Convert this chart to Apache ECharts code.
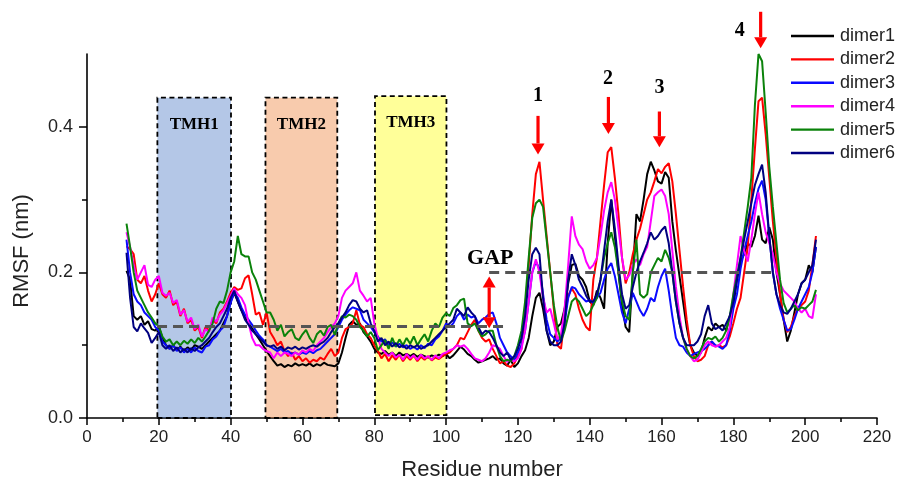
<!DOCTYPE html>
<html>
<head>
<meta charset="utf-8">
<script src="https://cdn.jsdelivr.net/npm/echarts@6/dist/echarts.min.js"></script>
<style>
  html, body { margin: 0; padding: 0; background: #ffffff; }
  #chart { width: 897px; height: 486px; }
</style>
</head>
<body>
<div id="chart"></div>
<script>
// RMSF per residue (nm), residues 11..203
const residueStart = 11;

const dimer1 = [
  0.202,0.19,0.14,0.135,0.14,0.128,0.133,0.122,0.12,0.126,
  0.11,0.1,0.095,0.1,0.093,0.098,0.092,0.097,0.093,0.1,
  0.098,0.095,0.1,0.105,0.11,0.115,0.12,0.13,0.14,0.16,
  0.172,0.16,0.148,0.138,0.13,0.123,0.115,0.108,0.1,0.092,
  0.085,0.078,0.072,0.074,0.07,0.073,0.071,0.075,0.072,0.074,
  0.072,0.075,0.071,0.074,0.072,0.076,0.073,0.072,0.071,0.075,
  0.09,0.11,0.128,0.133,0.128,0.13,0.118,0.112,0.105,0.095,
  0.09,0.088,0.092,0.087,0.09,0.085,0.09,0.086,0.088,0.085,
  0.088,0.084,0.087,0.085,0.083,0.086,0.084,0.087,0.085,0.088,
  0.082,0.086,0.092,0.098,0.094,0.088,0.085,0.08,0.076,0.078,
  0.08,0.082,0.085,0.08,0.082,0.075,0.072,0.08,0.07,0.075,
  0.085,0.093,0.11,0.14,0.165,0.172,0.15,0.12,0.1,0.105,
  0.125,0.13,0.15,0.185,0.21,0.212,0.195,0.19,0.18,0.16,
  0.155,0.175,0.165,0.15,0.24,0.3,0.25,0.2,0.155,0.125,
  0.118,0.2,0.28,0.27,0.3,0.335,0.352,0.34,0.325,0.322,
  0.338,0.33,0.27,0.23,0.195,0.16,0.125,0.1,0.09,0.085,
  0.09,0.11,0.125,0.12,0.13,0.125,0.128,0.12,0.14,0.155,
  0.19,0.215,0.225,0.24,0.235,0.25,0.278,0.245,0.24,0.262,
  0.245,0.2,0.17,0.135,0.105,0.12,0.145,0.17,0.185,0.19,
  0.21,0.2,0.235
];

const dimer2 = [
  0.236,0.232,0.225,0.19,0.185,0.195,0.175,0.16,0.17,0.185,
  0.17,0.165,0.175,0.155,0.16,0.14,0.15,0.13,0.135,0.12,
  0.125,0.11,0.125,0.12,0.135,0.13,0.145,0.15,0.16,0.172,
  0.18,0.176,0.178,0.192,0.196,0.17,0.142,0.145,0.128,0.145,
  0.118,0.11,0.1,0.105,0.092,0.085,0.09,0.08,0.085,0.078,
  0.082,0.076,0.08,0.078,0.083,0.08,0.088,0.095,0.085,0.09,
  0.11,0.122,0.125,0.13,0.148,0.128,0.125,0.115,0.11,0.1,
  0.092,0.082,0.088,0.078,0.086,0.08,0.087,0.078,0.085,0.08,
  0.086,0.078,0.084,0.08,0.085,0.079,0.083,0.081,0.085,0.088,
  0.09,0.095,0.1,0.11,0.108,0.118,0.128,0.135,0.12,0.11,
  0.105,0.108,0.095,0.085,0.075,0.078,0.072,0.07,0.075,0.085,
  0.095,0.15,0.21,0.28,0.335,0.352,0.3,0.25,0.2,0.15,
  0.1,0.095,0.138,0.168,0.178,0.17,0.15,0.135,0.125,0.12,
  0.19,0.22,0.27,0.32,0.365,0.372,0.33,0.28,0.22,0.185,
  0.2,0.225,0.245,0.26,0.28,0.3,0.31,0.325,0.342,0.336,
  0.345,0.35,0.325,0.28,0.23,0.18,0.135,0.1,0.085,0.078,
  0.08,0.085,0.1,0.105,0.098,0.1,0.097,0.1,0.112,0.13,
  0.15,0.165,0.2,0.235,0.3,0.37,0.435,0.44,0.39,0.33,
  0.27,0.22,0.17,0.135,0.118,0.125,0.14,0.15,0.155,0.16,
  0.175,0.21,0.25
];

const dimer3 = [
  0.245,0.2,0.17,0.16,0.155,0.145,0.14,0.135,0.125,0.12,
  0.105,0.1,0.095,0.1,0.092,0.097,0.09,0.095,0.09,0.097,
  0.092,0.09,0.098,0.1,0.108,0.112,0.12,0.125,0.14,0.158,
  0.172,0.165,0.152,0.142,0.135,0.128,0.12,0.113,0.108,0.1,
  0.098,0.095,0.092,0.095,0.09,0.092,0.088,0.09,0.087,0.09,
  0.088,0.092,0.089,0.093,0.095,0.1,0.105,0.11,0.115,0.125,
  0.135,0.142,0.148,0.152,0.15,0.148,0.135,0.13,0.125,0.118,
  0.112,0.105,0.108,0.1,0.104,0.098,0.102,0.097,0.1,0.095,
  0.098,0.094,0.1,0.096,0.102,0.1,0.108,0.112,0.12,0.13,
  0.125,0.13,0.14,0.145,0.135,0.142,0.138,0.14,0.13,0.135,
  0.138,0.143,0.145,0.13,0.11,0.1,0.09,0.085,0.08,0.09,
  0.1,0.12,0.16,0.2,0.215,0.205,0.17,0.135,0.115,0.11,
  0.105,0.11,0.13,0.165,0.18,0.178,0.17,0.165,0.16,0.162,
  0.158,0.165,0.172,0.19,0.205,0.213,0.195,0.17,0.145,0.13,
  0.15,0.172,0.16,0.148,0.14,0.15,0.165,0.16,0.18,0.195,
  0.205,0.175,0.14,0.11,0.1,0.098,0.09,0.085,0.088,0.09,
  0.092,0.095,0.1,0.105,0.1,0.098,0.095,0.1,0.12,0.15,
  0.17,0.205,0.23,0.25,0.27,0.295,0.315,0.326,0.3,0.25,
  0.2,0.17,0.15,0.135,0.12,0.122,0.135,0.15,0.16,0.17,
  0.18,0.2,0.235
];

const dimer4 = [
  0.255,0.235,0.21,0.19,0.2,0.21,0.183,0.18,0.19,0.195,
  0.172,0.168,0.172,0.158,0.162,0.142,0.148,0.132,0.138,0.122,
  0.128,0.112,0.122,0.118,0.138,0.132,0.142,0.148,0.158,0.168,
  0.178,0.17,0.165,0.155,0.13,0.11,0.1,0.1,0.095,0.092,
  0.09,0.082,0.09,0.085,0.09,0.088,0.085,0.09,0.087,0.093,
  0.09,0.095,0.092,0.1,0.105,0.11,0.118,0.125,0.13,0.14,
  0.165,0.175,0.18,0.185,0.2,0.175,0.168,0.16,0.165,0.13,
  0.11,0.095,0.09,0.085,0.09,0.083,0.087,0.08,0.088,0.082,
  0.086,0.08,0.087,0.082,0.085,0.08,0.086,0.082,0.088,0.09,
  0.093,0.095,0.1,0.098,0.1,0.095,0.088,0.082,0.08,0.078,
  0.082,0.09,0.1,0.098,0.095,0.085,0.077,0.08,0.078,0.082,
  0.095,0.12,0.16,0.2,0.218,0.2,0.165,0.145,0.15,0.13,
  0.108,0.115,0.15,0.21,0.277,0.25,0.238,0.232,0.215,0.205,
  0.21,0.22,0.25,0.285,0.31,0.324,0.3,0.26,0.22,0.19,
  0.196,0.21,0.218,0.21,0.225,0.235,0.27,0.305,0.31,0.314,
  0.305,0.28,0.23,0.18,0.14,0.11,0.095,0.085,0.078,0.08,
  0.09,0.1,0.105,0.1,0.098,0.1,0.105,0.11,0.125,0.17,
  0.21,0.25,0.23,0.215,0.245,0.28,0.31,0.28,0.255,0.24,
  0.225,0.2,0.185,0.175,0.17,0.165,0.16,0.15,0.145,0.15,
  0.14,0.137,0.17
];

const dimer5 = [
  0.267,0.235,0.2,0.175,0.165,0.155,0.145,0.138,0.13,0.126,
  0.112,0.105,0.108,0.1,0.105,0.1,0.106,0.102,0.108,0.103,
  0.11,0.105,0.112,0.12,0.13,0.15,0.16,0.158,0.175,0.2,
  0.215,0.25,0.225,0.222,0.222,0.2,0.19,0.175,0.16,0.145,
  0.145,0.135,0.12,0.128,0.112,0.118,0.122,0.11,0.107,0.115,
  0.121,0.11,0.103,0.115,0.12,0.113,0.125,0.128,0.114,0.13,
  0.14,0.138,0.142,0.14,0.135,0.125,0.12,0.112,0.118,0.11,
  0.093,0.1,0.107,0.095,0.11,0.098,0.108,0.1,0.11,0.102,
  0.112,0.1,0.108,0.115,0.105,0.12,0.13,0.125,0.138,0.144,
  0.14,0.151,0.155,0.162,0.164,0.13,0.126,0.13,0.12,0.112,
  0.115,0.12,0.12,0.1,0.085,0.078,0.08,0.078,0.085,0.1,
  0.12,0.16,0.22,0.275,0.295,0.3,0.29,0.245,0.2,0.155,
  0.125,0.105,0.12,0.14,0.16,0.165,0.16,0.15,0.14,0.145,
  0.155,0.165,0.19,0.22,0.24,0.255,0.235,0.2,0.16,0.14,
  0.135,0.2,0.245,0.17,0.165,0.17,0.2,0.21,0.22,0.215,
  0.231,0.22,0.2,0.16,0.13,0.11,0.095,0.085,0.082,0.085,
  0.095,0.105,0.11,0.108,0.112,0.105,0.11,0.12,0.14,0.17,
  0.195,0.22,0.255,0.29,0.33,0.43,0.5,0.49,0.42,0.345,
  0.29,0.24,0.19,0.158,0.145,0.15,0.155,0.148,0.152,0.15,
  0.155,0.16,0.176
];

const dimer6 = [
  0.227,0.165,0.125,0.119,0.13,0.123,0.117,0.103,0.11,0.118,
  0.1,0.095,0.1,0.092,0.097,0.09,0.095,0.09,0.096,0.092,
  0.097,0.1,0.105,0.11,0.118,0.125,0.13,0.14,0.15,0.165,
  0.175,0.16,0.148,0.135,0.128,0.12,0.115,0.11,0.105,0.1,
  0.098,0.1,0.095,0.098,0.093,0.097,0.095,0.098,0.094,0.097,
  0.095,0.098,0.1,0.098,0.102,0.105,0.11,0.118,0.125,0.13,
  0.138,0.145,0.155,0.162,0.16,0.15,0.145,0.148,0.13,0.12,
  0.105,0.11,0.1,0.105,0.098,0.103,0.097,0.1,0.095,0.1,
  0.097,0.1,0.095,0.098,0.1,0.105,0.11,0.115,0.12,0.125,
  0.13,0.135,0.15,0.145,0.14,0.152,0.145,0.14,0.125,0.115,
  0.12,0.118,0.11,0.1,0.09,0.085,0.09,0.08,0.085,0.095,
  0.11,0.14,0.19,0.225,0.234,0.225,0.165,0.12,0.105,0.1,
  0.1,0.105,0.13,0.19,0.225,0.21,0.19,0.18,0.168,0.16,
  0.16,0.17,0.19,0.23,0.27,0.3,0.26,0.21,0.17,0.15,
  0.155,0.18,0.2,0.215,0.227,0.24,0.255,0.245,0.25,0.258,
  0.263,0.24,0.2,0.16,0.13,0.11,0.1,0.1,0.1,0.105,
  0.115,0.14,0.155,0.13,0.122,0.125,0.12,0.13,0.14,0.16,
  0.19,0.22,0.245,0.27,0.295,0.32,0.335,0.348,0.31,0.25,
  0.2,0.17,0.155,0.145,0.143,0.15,0.16,0.17,0.185,0.19,
  0.2,0.21,0.245
];

const seriesNames = ['dimer1', 'dimer2', 'dimer3', 'dimer4', 'dimer5', 'dimer6'];
const seriesValues = [dimer1, dimer2, dimer3, dimer4, dimer5, dimer6];
const seriesColors = ['#000000', '#ff0000', '#0a0aff', '#ff00ff', '#0a820a', '#000080'];

// Transmembrane helix ranges (residue numbers) and box height (nm)
const helixNames = ['TMH1', 'TMH2', 'TMH3'];
const helixStart = [19.6, 49.7, 80.2];
const helixEnd = [40.1, 69.7, 100.1];
const helixTop = [0.44, 0.44, 0.442];
const helixBottom = [0, 0, 0.004];
const helixFill = ['rgba(67,115,195,0.4)', 'rgba(237,125,50,0.4)', 'rgba(255,255,0,0.4)'];

// Average-fluctuation reference levels (residue range, nm)
const gapLevels = [[19.5, 117.5, 0.1255], [112, 191, 0.2]];

// Peak annotations: residue, arrow top, arrow tip, label position
const peakLabels = ['1', '2', '3', '4'];
const peakResidue = [125.6, 145.2, 159.4, 187.6];
const peakArrowTop = [0.415, 0.441, 0.421, 0.558];
const peakArrowTip = [0.362, 0.39, 0.372, 0.508];
const peakLabelX = [125.6, 145.1, 159.4, 181.8];
const peakLabelY = [0.442, 0.466, 0.454, 0.532];

const xTicks = [0, 20, 40, 60, 80, 100, 120, 140, 160, 180, 200, 220];
const xMinorTicks = [10, 30, 50, 70, 90, 110, 130, 150, 170, 190, 210];
const yTicks = [0, 0.2, 0.4];
const yMinorTicks = [0.1, 0.3];

const sansFont = '"Liberation Sans", Arial, sans-serif';
const serifFont = '"Liberation Serif", "Times New Roman", serif';

const chart = echarts.init(document.getElementById('chart'), null, { renderer: 'canvas' });

const lineSeries = seriesNames.map((name, k) => ({
  name: name,
  type: 'line',
  data: seriesValues[k].map((v, i) => [residueStart + i, v]),
  showSymbol: false,
  symbol: 'none',
  lineStyle: { color: seriesColors[k], width: 2 },
  itemStyle: { color: seriesColors[k] },
  z: 2,
  silent: true
}));

const helixSeries = {
  name: 'helices',
  type: 'line',
  data: [],
  z: 5,
  silent: true,
  markArea: {
    silent: true,
    data: helixNames.map((n, i) => [
      {
        name: n,
        coord: [helixStart[i], helixBottom[i]],
        itemStyle: {
          color: helixFill[i],
          borderColor: '#000',
          borderWidth: 1.8,
          borderType: [5, 3.5]
        }
      },
      { coord: [helixEnd[i], helixTop[i]] }
    ]),
    label: {
      show: true,
      position: 'insideTop',
      distance: 19,
      color: '#000',
      fontFamily: serifFont,
      fontWeight: 'bold',
      fontSize: 17
    }
  }
};

const gapSeries = {
  name: 'levels',
  type: 'line',
  data: [],
  z: 6,
  silent: true,
  markLine: {
    silent: true,
    symbol: ['none', 'none'],
    label: { show: false },
    lineStyle: { color: '#555555', width: 3, type: [10, 6] },
    data: gapLevels.map(g => [{ coord: [g[0], g[2]] }, { coord: [g[1], g[2]] }])
  }
};

const option = {
  animation: false,
  backgroundColor: '#ffffff',
  grid: { left: 87, right: 20, top: 54, bottom: 68, containLabel: false, outerBoundsMode: 'none' },
  legend: {
    data: seriesNames,
    orient: 'vertical',
    left: 791,
    top: 27,
    padding: 0,
    icon: 'rect',
    itemWidth: 43,
    itemHeight: 2.4,
    itemGap: 5.4,
    selectedMode: false,
    textStyle: { fontFamily: sansFont, fontSize: 18, color: '#222', padding: [0, 0, 0, 1] }
  },
  xAxis: [
    {
      type: 'value', min: 0, max: 220, interval: 20,
      axisLine: { show: true, lineStyle: { color: '#000', width: 1.6 } },
      axisTick: { show: true, length: 7, lineStyle: { color: '#000', width: 1.5 }, customValues: xTicks },
      axisLabel: { fontFamily: sansFont, fontSize: 17, color: '#222', margin: 11, customValues: xTicks },
      splitLine: { show: false },
      name: 'Residue number', nameLocation: 'middle', nameGap: 41,
      nameTextStyle: { fontFamily: sansFont, fontSize: 22, color: '#222' }
    },
    {
      type: 'value', min: 0, max: 220, position: 'bottom',
      axisLine: { show: false },
      axisTick: { show: true, length: 4, lineStyle: { color: '#000', width: 1.5 }, customValues: xMinorTicks },
      axisLabel: { show: false },
      splitLine: { show: false }
    }
  ],
  yAxis: [
    {
      type: 'value', min: 0, max: 0.5,
      axisLine: { show: true, lineStyle: { color: '#000', width: 1.6 } },
      axisTick: { show: true, length: 8, lineStyle: { color: '#000', width: 1.5 }, customValues: yTicks },
      axisLabel: {
        fontFamily: sansFont, fontSize: 18, color: '#222', margin: 14,
        customValues: yTicks,
        formatter: v => v.toFixed(1)
      },
      splitLine: { show: false }
    },
    {
      type: 'value', min: 0, max: 0.5, position: 'left',
      axisLine: { show: false },
      axisTick: { show: true, length: 5, lineStyle: { color: '#000', width: 1.5 }, customValues: yMinorTicks },
      axisLabel: { show: false },
      splitLine: { show: false }
    }
  ],
  series: lineSeries.concat([helixSeries, gapSeries])
};

chart.setOption(option);

// Annotations placed through the axis scales
const px = (x, y) => chart.convertToPixel({ gridIndex: 0 }, [x, y]);
const arrowRed = '#ff0000';

function arrowGraphics(x, yFrom, yTo, doubleHead) {
  const a = px(x, yFrom);
  const b = px(x, yTo);
  const dir = b[1] > a[1] ? 1 : -1;
  const headLen = 11, headHalf = 6.5;
  const items = [];
  const shaftStart = doubleHead ? a[1] + dir * headLen : a[1];
  const shaftEnd = b[1] - dir * headLen;
  items.push({
    type: 'line', silent: true, z: 20,
    shape: { x1: a[0], y1: shaftStart, x2: b[0], y2: shaftEnd },
    style: { stroke: arrowRed, lineWidth: 3.2 }
  });
  items.push({
    type: 'polygon', silent: true, z: 20,
    shape: { points: [[b[0] - headHalf, b[1] - dir * headLen], [b[0] + headHalf, b[1] - dir * headLen], [b[0], b[1]]] },
    style: { fill: arrowRed }
  });
  if (doubleHead) {
    items.push({
      type: 'polygon', silent: true, z: 20,
      shape: { points: [[a[0] - headHalf, a[1] + dir * headLen], [a[0] + headHalf, a[1] + dir * headLen], [a[0], a[1]]] },
      style: { fill: arrowRed }
    });
  }
  return items;
}

let graphics = [];
peakLabels.forEach((lab, i) => {
  graphics = graphics.concat(arrowGraphics(peakResidue[i], peakArrowTop[i], peakArrowTip[i], false));
  const p = px(peakLabelX[i], peakLabelY[i]);
  graphics.push({
    type: 'text', silent: true, z: 20, x: p[0], y: p[1],
    style: { text: lab, fill: '#000', font: 'bold 20px ' + serifFont, textAlign: 'center', textVerticalAlign: 'middle' }
  });
});
graphics = graphics.concat(arrowGraphics(112, 0.1945, 0.1233, true));
const gp = px(112.3, 0.22);
graphics.push({
  type: 'text', silent: true, z: 20, x: gp[0], y: gp[1],
  style: { text: 'GAP', fill: '#000', font: 'bold 22px ' + serifFont, textAlign: 'center', textVerticalAlign: 'middle' }
});
graphics.push({
  type: 'text', silent: true, z: 20, x: 22, y: 251, rotation: Math.PI / 2,
  style: { text: 'RMSF (nm)', fill: '#222', font: '22px ' + sansFont, textAlign: 'center', textVerticalAlign: 'middle' }
});

chart.setOption({ graphic: graphics });
</script>
</body>
</html>
